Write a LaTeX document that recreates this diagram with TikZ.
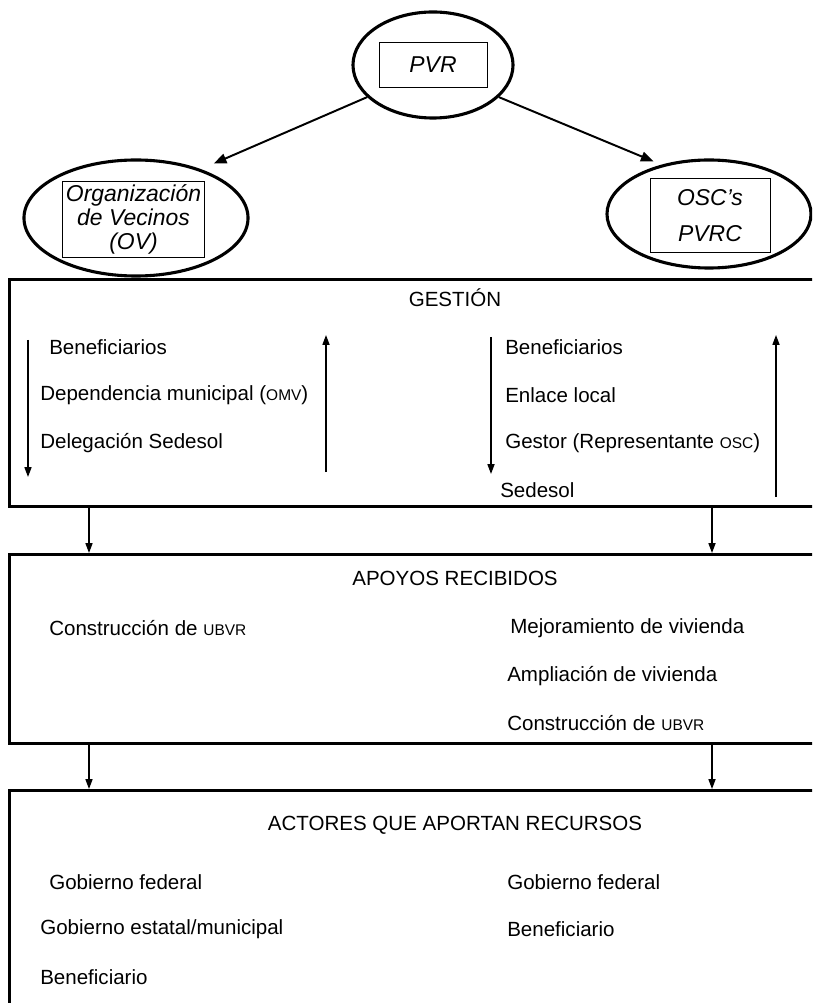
\documentclass[tikz,border=0pt]{standalone}
\usepackage{fontspec}
\setmainfont{Liberation Sans}
\usepackage{tikz}
\usetikzlibrary{arrows.meta, shapes.geometric}
\newcommand{\smallcaps}[1]{{\fontsize{11pt}{12pt}\selectfont #1}}

\begin{document}
\begin{tikzpicture}[x=0.025cm,y=-0.025cm,
    every node/.style={font=\fontsize{14.6pt}{17pt}\selectfont, inner sep=0pt},
    oval/.style={ellipse, draw, line width=2.2pt},
    inbox/.style={draw, line width=0.7pt, align=center,
      font=\fontsize{16.3pt}{17pt}\selectfont\itshape},
    panel/.style={draw, line width=2.2pt, anchor=north west, minimum width=22cm},
    item/.style={anchor=west},
    arr/.style={-{Triangle[length=7pt,width=5pt]}, line width=1pt},
    toparr/.style={-{Triangle[length=9pt,width=7pt]}, line width=1.4pt}]
			\useasboundingbox (0,0) rectangle (812,1003);
			\clip (0,0) rectangle (812,1003);
			% program and its two organising actors
			\node[oval, minimum width=4cm, minimum height=2.65cm] (pvr) at (433,65) {};
			\node[inbox, minimum width=2.7cm, minimum height=1.125cm] (pvrbox) at (pvr) {PVR};
			\node[oval, minimum width=5.6cm, minimum height=2.9cm] (ov) at (136,218) {};
			\node[inbox, minimum width=3.525cm, minimum height=1.875cm] (ovbox) at (133.5,219.5)
				{Organización\\de Vecinos\\(OV)};
			\node[oval, minimum width=5.1cm, minimum height=2.7cm] (osc) at (709,214) {};
			\node[inbox, minimum width=3cm, minimum height=1.825cm] (oscbox) at (710,215.5)
				{OSC’s\\[8.6pt]PVRC};
			\draw[toparr, shorten >=10pt] (pvr.206) -- (ov.37);
			\draw[toparr, shorten >=6pt] (pvr.334) -- (osc.134);
			% panels
			\node[panel, minimum height=5.675cm] (gestion) at (8,278) {};
			\node[panel, minimum height=4.725cm] (apoyos) at (8,553) {};
			\node[panel, minimum height=6cm] (actores) at (8,789) {};
			\coordinate (colL) at (89,0);
			\coordinate (colR) at (712,0);
			\draw[arr] (gestion.south -| colL) -- (apoyos.north -| colL);
			\draw[arr] (gestion.south -| colR) -- (apoyos.north -| colR);
			\draw[arr] (apoyos.south -| colL) -- (actores.north -| colL);
			\draw[arr] (apoyos.south -| colR) -- (actores.north -| colR);
			% gestion
			\node (gesthead) at (455,298) {GESTIÓN};
			\node[item] (benL) at (49,347) {Beneficiarios};
			\node[item] (depL) at (40,395) {Dependencia municipal (\smallcaps{OMV})};
			\node[item] (delL) at (40,443) {Delegación Sedesol};
			\node[item] (benR) at (505,347) {Beneficiarios};
			\node[item] (enlR) at (505,395) {Enlace local};
			\node[item] (gesR) at (505,443) {Gestor (Representante \smallcaps{OSC})};
			\node[item] (sedR) at (500,490) {Sedesol};
			\coordinate (downLa) at (28,340);  \coordinate (downLb) at (28,477);
			\coordinate (upLa) at (326,472);   \coordinate (upLb) at (326,335);
			\coordinate (downRa) at (491,337); \coordinate (downRb) at (491,474);
			\coordinate (upRa) at (776,497);   \coordinate (upRb) at (776,335);
			\draw[arr] (downLa) -- (downLb);
			\draw[arr] (upLa) -- (upLb);
			\draw[arr] (downRa) -- (downRb);
			\draw[arr] (upRa) -- (upRb);
			% apoyos
			\node (apohead) at (455,578) {APOYOS RECIBIDOS};
			\node[item] (conL) at (49,628) {Construcción de \smallcaps{UBVR}};
			\node[item] (mejR) at (510,628) {Mejoramiento de vivienda};
			\node[item] (ampR) at (507,676) {Ampliación de vivienda};
			\node[item] (conR) at (507,723) {Construcción de \smallcaps{UBVR}};
			% actores
			\node (acthead) at (455,825) {ACTORES QUE APORTAN RECURSOS};
			\node[item] (gfL) at (49,882) {Gobierno federal};
			\node[item] (geL) at (40,929) {Gobierno estatal/municipal};
			\node[item] (beL) at (40,977) {Beneficiario};
			\node[item] (gfR) at (507,882) {Gobierno federal};
			\node[item] (beR) at (507,929) {Beneficiario};
		\end{tikzpicture}
\end{document}
